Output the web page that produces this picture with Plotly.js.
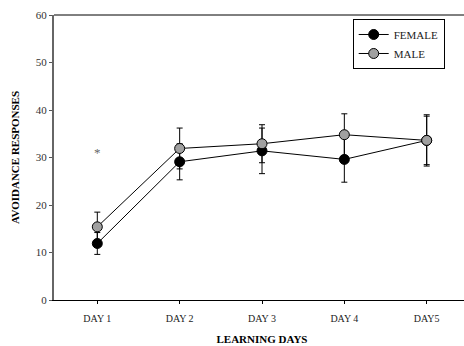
<!DOCTYPE html>
<html>
<head>
<meta charset="utf-8">
<script src="https://cdn.plot.ly/plotly-3.0.1.min.js"></script>
<style>html,body{margin:0;padding:0;background:#fff;overflow:hidden;width:464px;height:346px;}#chart{width:470px;height:346px;}</style>
</head>
<body>
<div id="chart"></div>
<script>
var days = ['DAY 1', 'DAY 2', 'DAY 3', 'DAY 4', 'DAY5'];
var femaleMean = [11.9, 29.1, 31.4, 29.6, 33.6];
var femaleErr  = [2.3, 3.8, 4.8, 4.8, 5.1];
var maleMean   = [15.4, 31.9, 32.9, 34.8, 33.6];
var maleErr    = [3.1, 4.3, 4.0, 4.4, 5.4];
var yTicks = [0, 10, 20, 30, 40, 50, 60];
var sigDay = 'DAY 1';
var sigY = 31.0;

var serif = 'Liberation Serif, Times New Roman, serif';

var traces = [
  {
    x: days, y: femaleMean, name: 'FEMALE', type: 'scatter', mode: 'lines+markers',
    line: {color: '#000', width: 1},
    marker: {size: 10, color: '#000', line: {color: '#000', width: 1}},
    error_y: {type: 'data', array: femaleErr, visible: true, color: '#000', thickness: 1, width: 3}
  },
  {
    x: days, y: maleMean, name: 'MALE', type: 'scatter', mode: 'lines+markers',
    line: {color: '#000', width: 1},
    marker: {size: 10, color: '#a0a0a0', line: {color: '#000', width: 1}},
    error_y: {type: 'data', array: maleErr, visible: true, color: '#000', thickness: 1, width: 3}
  }
];

var layout = {
  width: 470, height: 346,
  margin: {l: 54, r: 0, t: 15, b: 46, pad: 0},
  paper_bgcolor: '#fff', plot_bgcolor: '#fff',
  font: {family: serif, size: 10, color: '#222'},
  showlegend: true,
  legend: {
    x: 0.718, y: 0.986, xanchor: 'left', yanchor: 'top',
    bordercolor: '#000', borderwidth: 1, bgcolor: '#fff',
    font: {family: serif, size: 11, color: '#222'},
    tracegroupgap: 0
  },
  xaxis: {
    type: 'category',
    categoryorder: 'array', categoryarray: days,
    range: [-0.526, 4.526],
    showgrid: false, zeroline: false,
    showline: true, linecolor: '#000', linewidth: 1, mirror: false,
    ticks: 'outside', ticklen: 3, tickcolor: '#000', tickwidth: 1,
    ticklabelstandoff: 6,
    tickfont: {family: serif, size: 10, color: '#222'},
    title: {text: '<b>LEARNING DAYS</b>', font: {family: serif, size: 11, color: '#000'}, standoff: 12}
  },
  yaxis: {
    range: [0, 60],
    tickvals: yTicks,
    showgrid: false, zeroline: false,
    showline: true, linecolor: '#666', linewidth: 2, mirror: false,
    ticks: 'outside', ticklen: 3, tickcolor: '#555', tickwidth: 1,
    tickfont: {family: serif, size: 11, color: '#333'},
    title: {text: '<b>AVOIDANCE RESPONSES</b>', font: {family: serif, size: 11, color: '#000'}, standoff: 14}
  },
  shapes: [
    {type: 'line', xref: 'paper', yref: 'paper', x0: 0, x1: 1, y0: 1, y1: 1,
     line: {color: '#000', width: 1}}
  ],
  annotations: [
    {x: sigDay, y: sigY, xref: 'x', yref: 'y', text: '*', showarrow: false,
     font: {family: serif, size: 13, color: '#666'}}
  ]
};

Plotly.newPlot('chart', traces, layout, {displayModeBar: false, staticPlot: true});
</script>
</body>
</html>
